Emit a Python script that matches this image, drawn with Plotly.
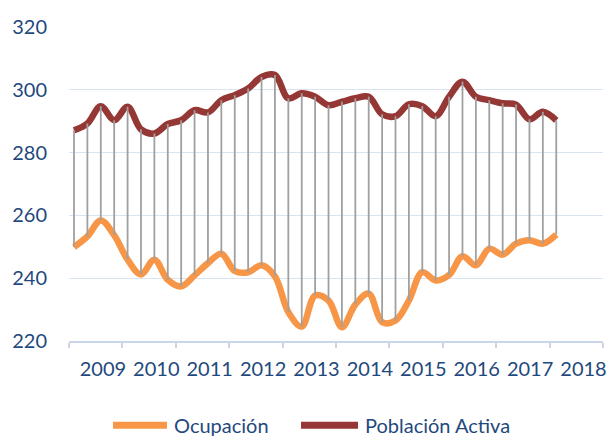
import plotly.graph_objects as go

# Quarterly observations (index 0..36)
ocupacion = [249.9, 253.3, 258.4, 253.7, 245.9, 241.2, 245.9, 239.5, 237.4, 240.9,
             244.8, 247.8, 242.3, 241.9, 244.1, 240.6, 229.2, 224.6, 234.5, 232.9,
             224.4, 231.6, 235.1, 226.0, 226.5, 232.9, 241.9, 239.3, 241.0, 247.0,
             244.1, 249.4, 247.5, 251.0, 252.1, 251.0, 253.9]
poblacion_activa = [287.1, 289.3, 294.8, 290.3, 294.6, 287.4, 286.1, 289.1, 290.3, 293.5,
                    292.8, 296.7, 298.3, 300.4, 304.1, 304.7, 297.3, 298.9, 297.8, 295.1,
                    296.2, 297.3, 297.8, 292.2, 291.6, 295.4, 294.8, 291.6, 297.8, 302.6,
                    297.8, 296.7, 295.7, 295.3, 290.6, 293.0, 290.3]
year_labels = ["2009", "2010", "2011", "2012", "2013", "2014", "2015", "2016", "2017", "2018"]
y_ticks = [220, 240, 260, 280, 300, 320]

n = len(ocupacion)
x = list(range(n))

# axis geometry (in quarter-index units)
x_min, x_max = -0.373, 39.49
year_step = (x_max - x_min) / 10
tick_marks = [x_min + year_step * k for k in range(11)]
label_pos = [x_min + 2.53 + year_step * k for k in range(len(year_labels))]

# high-low connectors
hl_x, hl_y = [], []
for i in range(n):
    hl_x += [x[i], x[i], None]
    hl_y += [ocupacion[i], poblacion_activa[i], None]

FONT = "Lato"
TXT = "#1F497D"
GRID = "#D9E3F1"

fig = go.Figure()
fig.add_trace(go.Scatter(x=hl_x, y=hl_y, mode="lines", xaxis="x2",
                         line=dict(color="#A0A0A0", width=1.8),
                         showlegend=False, hoverinfo="skip"))
fig.add_trace(go.Scatter(x=x, y=ocupacion, mode="lines", name="Ocupación",
                         line=dict(color="#F79646", width=6.5, shape="spline", smoothing=1),
                         showlegend=False))
fig.add_trace(go.Scatter(x=x, y=poblacion_activa, mode="lines", name="Población Activa",
                         line=dict(color="#953735", width=6.5, shape="spline", smoothing=1),
                         showlegend=False))

fig.update_layout(
    width=610, height=437,
    margin=dict(l=69, r=7, t=27, b=96, autoexpand=False),
    paper_bgcolor="white", plot_bgcolor="white",
    font=dict(family=FONT, size=20, color=TXT),
    xaxis=dict(range=[x_min, x_max], tickmode="array", tickvals=tick_marks,
               ticktext=[""] * len(tick_marks), ticks="outside", ticklen=5,
               tickcolor="#C9D6EA", tickwidth=1.5, showgrid=False, zeroline=False,
               showline=True, linecolor="#C9D6EA", linewidth=1.5),
    xaxis2=dict(range=[x_min, x_max], overlaying="x", anchor="y", side="bottom",
                tickmode="array", tickvals=label_pos, ticktext=year_labels,
                ticks="", showgrid=False, zeroline=False, showline=False,
                ticklabelstandoff=14, tickfont=dict(family=FONT, size=20, color=TXT)),
    yaxis=dict(range=[220, 320], tickmode="array", tickvals=y_ticks, ticks="",
               showgrid=True, gridcolor=GRID, gridwidth=1.2, zeroline=False,
               showline=False, ticklabelstandoff=21,
               tickfont=dict(family=FONT, size=20, color=TXT)),
)

# custom legend
legend_items = [("Ocupación", "#F79646", 0.0824, 0.1835, 0.1929),
                ("Población Activa", "#953735", 0.4345, 0.5412, 0.5506)]
ly = -0.268
for name, color, x0, x1, tx in legend_items:
    fig.add_shape(type="line", xref="paper", yref="paper", x0=x0, x1=x1, y0=ly, y1=ly,
                  line=dict(color=color, width=7))
    fig.add_annotation(text=name, xref="paper", yref="paper", x=tx, y=ly,
                       xanchor="left", yanchor="middle", showarrow=False,
                       font=dict(family=FONT, size=20, color=TXT))

fig.write_html("out.html", config={"displayModeBar": False},
               post_script="document.body.style.margin='0';document.body.style.overflow='hidden';")
